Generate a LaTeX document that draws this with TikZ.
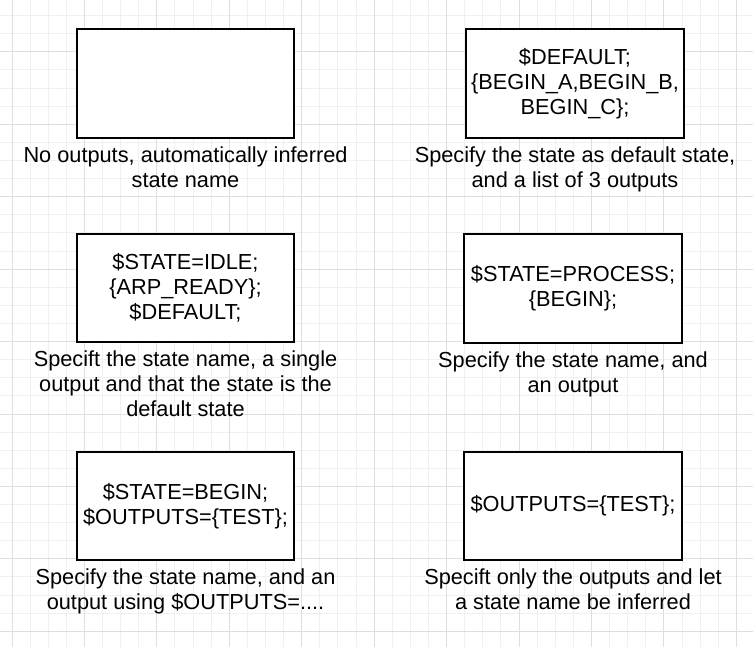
\documentclass[tikz,border=0pt]{standalone}
\usepackage{fontspec}
\setmainfont{Liberation Sans}
\definecolor{gridmajor}{HTML}{DEDEDE}
\definecolor{gridminor}{HTML}{F0F0F0}
\tikzset{
  gridmin/.style={draw=gridminor, line width=1pt},
  gridmaj/.style={draw=gridmajor, line width=1pt},
  statebox/.style={draw=black, fill=white, line width=1.8pt, rectangle,
    minimum width=217.5pt, minimum height=108.7pt, inner sep=0pt,
    align=center, font=\fontsize{21.75}{25}\selectfont},
  caption/.style={anchor=north, inner sep=0pt, align=center, yshift=-7.5pt,
    font=\fontsize{21.75}{25}\selectfont}
}
\begin{document}
\begin{tikzpicture}[x=1pt,y=-1pt]
\useasboundingbox (0,0) rectangle (753,647);
\fill[white] (0,0) rectangle (753,647);
\begin{scope}
\clip (0,0) rectangle (753,647);
\foreach \i in {-1,...,41} {\draw[gridmin] ({12+\i*18.11},0) -- ++(0,647);}
\foreach \i in {-3,...,33} {\draw[gridmin] (0,{51.8+\i*18.11}) -- ++(753,0);}
\foreach \i in {0,...,10} {\draw[gridmaj] ({12+\i*72.44},0) -- ++(0,647);}
\foreach \i in {-1,...,8} {\draw[gridmaj] (0,{51.8+\i*72.44}) -- ++(753,0);}
\end{scope}

\node[statebox] (b1) at (185.5,83.5) {};
\node[statebox] (b2) at (575,83.5) {\$DEFAULT;\\\{BEGIN\_A,BEGIN\_B,\\BEGIN\_C\};};
\node[statebox] (b3) at (185.5,288) {\$STATE=IDLE;\\\{ARP\_READY\};\\\$DEFAULT;};
\node[statebox] (b4) at (573,288.5) {\$STATE=PROCESS;\\\{BEGIN\};};
\node[statebox] (b5) at (185.5,506) {\$STATE=BEGIN;\\\$OUTPUTS=\{TEST\};};
\node[statebox] (b6) at (573,506) {\$OUTPUTS=\{TEST\};};

\node[caption] (c1) at (b1.south) {No outputs, automatically inferred\\state name};
\node[caption] (c2) at (b2.south) {Specify the state as default state,\\and a list of 3 outputs};
\node[caption] (c3) at (b3.south) {Specift the state name, a single\\output and that the state is the\\default state};
\node[caption] (c4) at (b4.south) {Specify the state name, and\\an output};
\node[caption] (c5) at (b5.south) {Specify the state name, and an\\output using \$OUTPUTS=....};
\node[caption] (c6) at (b6.south) {Specift only the outputs and let\\a state name be inferred};
\end{tikzpicture}
\end{document}
